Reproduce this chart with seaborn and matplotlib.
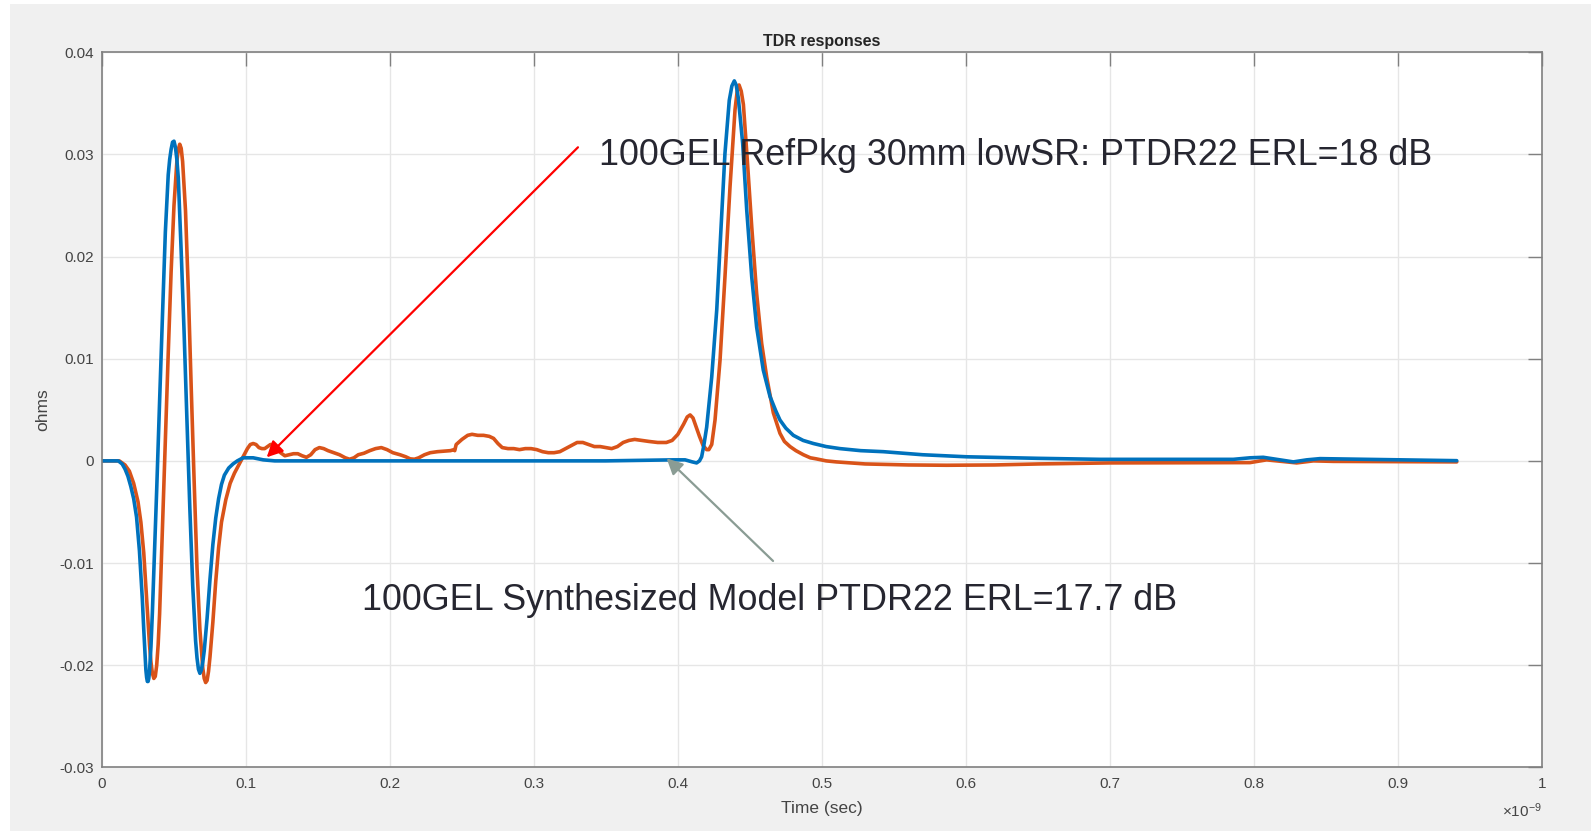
import numpy as np
import pandas as pd
import matplotlib
matplotlib.use("Agg")
import matplotlib.pyplot as plt
from matplotlib.patches import Rectangle
import seaborn as sns

# ---------------- data (time in units of 1e-9 s, response in ohms) ----------------
t_synth = [0.000, 0.008, 0.0113, 0.014, 0.016, 0.018, 0.020, 0.022, 0.024, 0.026, 0.028,
           0.029, 0.030, 0.0305, 0.031, 0.0315, 0.032, 0.0325, 0.033, 0.034, 0.035, 0.036,
           0.038, 0.040, 0.042, 0.044, 0.046, 0.047, 0.048, 0.049, 0.050, 0.051, 0.052,
           0.053, 0.055, 0.057, 0.059, 0.061, 0.063, 0.065, 0.066, 0.067, 0.068, 0.069,
           0.070, 0.071, 0.073, 0.075, 0.077, 0.079, 0.081, 0.083, 0.085, 0.088, 0.091,
           0.094, 0.098, 0.105, 0.112, 0.120, 0.150, 0.200, 0.250, 0.300, 0.350, 0.3968,
           0.405, 0.410, 0.413, 0.4150, 0.4165, 0.418, 0.4200, 0.4235, 0.4270, 0.4300,
           0.4327, 0.4357, 0.4375, 0.4392, 0.4405, 0.4420, 0.4450, 0.4478, 0.4513, 0.4547,
           0.4593, 0.4640, 0.4680, 0.4709, 0.4750, 0.4802, 0.4870, 0.4941, 0.5030, 0.5126,
           0.5270, 0.5427, 0.5700, 0.6006, 0.6500, 0.6932, 0.7858, 0.7974, 0.8066, 0.8159,
           0.8275, 0.8368, 0.8460, 0.8784, 0.9410]
y_synth = [0.0000, 0.0000, 0.0000, -0.0003, -0.0008, -0.0015, -0.0025, -0.0037, -0.0055,
           -0.0088, -0.0135, -0.0165, -0.0192, -0.0205, -0.0212, -0.0216, -0.0216, -0.0213,
           -0.0206, -0.0182, -0.0148, -0.0108, -0.0028, 0.0058, 0.0142, 0.0224, 0.0280,
           0.0295, 0.0305, 0.0312, 0.0313, 0.0307, 0.0295, 0.0277, 0.0205, 0.0127, 0.0040,
           -0.0046, -0.0122, -0.0176, -0.0193, -0.0204, -0.0208, -0.0205, -0.0197, -0.0186,
           -0.0154, -0.0116, -0.0082, -0.0056, -0.0037, -0.0023, -0.0014, -0.0007, -0.0003,
           0.0000, 0.0003, 0.0003, 0.0001, 0.0000, 0.0000, 0.0000, 0.0000, 0.0000, 0.0000,
           0.0001, 0.0001, -0.0001, -0.0002, 0.0000, 0.0004, 0.0015, 0.0033, 0.0082, 0.0148,
           0.0229, 0.0301, 0.0353, 0.0367, 0.0372, 0.0368, 0.0355, 0.0311, 0.0246, 0.0180,
           0.0131, 0.0089, 0.0063, 0.0049, 0.0040, 0.0032, 0.0025, 0.0020, 0.0017, 0.0014,
           0.0012, 0.0010, 0.0009, 0.0006, 0.0004, 0.00025, 0.00015, 0.00015, 0.0003, 0.00035,
           0.00015, -0.0001, 0.0001, 0.00022, 0.00015, 0.00002]

t_refpkg = [0.000, 0.012, 0.016, 0.019, 0.022, 0.025, 0.027, 0.029, 0.031, 0.033, 0.034,
            0.035, 0.036, 0.037, 0.038, 0.039, 0.040, 0.042, 0.044, 0.046, 0.048, 0.050,
            0.052, 0.053, 0.054, 0.055, 0.056, 0.058, 0.060, 0.062, 0.064, 0.066, 0.068,
            0.070, 0.071, 0.072, 0.073, 0.074, 0.075, 0.077, 0.079, 0.081, 0.083, 0.086,
            0.089, 0.092, 0.095, 0.098, 0.101, 0.103, 0.105, 0.107, 0.109, 0.111, 0.113,
            0.115, 0.117, 0.119, 0.121, 0.124, 0.127, 0.130, 0.133, 0.136, 0.139, 0.142,
            0.145, 0.148, 0.151, 0.154, 0.157, 0.161, 0.165, 0.169, 0.172, 0.175, 0.178,
            0.182, 0.186, 0.190, 0.194, 0.198, 0.202, 0.207, 0.211, 0.214, 0.217, 0.220,
            0.224, 0.228, 0.233, 0.238, 0.242, 0.2445, 0.2450, 0.2460, 0.250, 0.254, 0.257,
            0.261, 0.265, 0.269, 0.272, 0.275, 0.278, 0.282, 0.286, 0.290, 0.294, 0.298,
            0.302, 0.306, 0.310, 0.314, 0.318, 0.322, 0.326, 0.330, 0.334, 0.338, 0.342,
            0.346, 0.350, 0.354, 0.358, 0.362, 0.366, 0.370, 0.375, 0.380, 0.386, 0.392,
            0.396, 0.400, 0.404, 0.4065, 0.4085, 0.4105, 0.4125, 0.4150, 0.4175, 0.4200,
            0.4215, 0.4235, 0.4258, 0.4293, 0.4327, 0.4362, 0.4397, 0.4412, 0.4425, 0.4440,
            0.4455, 0.4482, 0.4513, 0.4547, 0.4582, 0.4617, 0.4663, 0.4709, 0.4740, 0.4779,
            0.4820, 0.4872, 0.4920, 0.4960, 0.5030, 0.5100, 0.5300, 0.5600, 0.5867, 0.6200,
            0.6510, 0.7000, 0.7500, 0.7974, 0.8089, 0.8159, 0.8298, 0.8414, 0.8553, 0.9410]
y_refpkg = [0.0000, 0.0000, -0.0004, -0.0010, -0.0022, -0.0040, -0.0060, -0.0090, -0.0135,
            -0.0180, -0.0197, -0.0208, -0.0213, -0.0211, -0.0200, -0.0180, -0.0150, -0.0065,
            0.0020, 0.0105, 0.0185, 0.0250, 0.0293, 0.0305, 0.0310, 0.0306, 0.0293, 0.0245,
            0.0165, 0.0070, -0.0020, -0.0105, -0.0165, -0.0203, -0.0213, -0.0217, -0.0215,
            -0.0206, -0.0192, -0.0158, -0.0118, -0.0085, -0.0060, -0.0038, -0.0022, -0.0012,
            -0.0004, 0.0004, 0.0012, 0.0016, 0.0017, 0.0016, 0.0013, 0.0012, 0.0012, 0.0014,
            0.0016, 0.0016, 0.0013, 0.0008, 0.0005, 0.0006, 0.0007, 0.0007, 0.0005, 0.00035,
            0.0006, 0.0011, 0.0013, 0.0012, 0.0010, 0.0008, 0.0006, 0.0003, 0.00016, 0.0003,
            0.0006, 0.00075, 0.0010, 0.0012, 0.0013, 0.0011, 0.0008, 0.0006, 0.0004, 0.0002,
            0.00016, 0.0003, 0.0006, 0.0008, 0.0009, 0.00095, 0.0010, 0.0011, 0.0010, 0.0016,
            0.0021, 0.0025, 0.0026, 0.0025, 0.0025, 0.0024, 0.0022, 0.0017, 0.0013, 0.0012,
            0.0012, 0.0011, 0.0012, 0.0012, 0.0011, 0.0009, 0.0008, 0.0008, 0.0009, 0.0012,
            0.0015, 0.0018, 0.0018, 0.0016, 0.0014, 0.0014, 0.0013, 0.0012, 0.0014, 0.0018,
            0.0020, 0.0021, 0.0020, 0.0019, 0.0018, 0.0018, 0.0020, 0.0026, 0.0036, 0.0043,
            0.0045, 0.0042, 0.0034, 0.0024, 0.0015, 0.0011, 0.0011, 0.0016, 0.0040, 0.0099,
            0.0180, 0.0268, 0.0344, 0.0362, 0.0368, 0.0362, 0.0349, 0.0295, 0.0229, 0.0164,
            0.0115, 0.0082, 0.0047, 0.0027, 0.0019, 0.0014, 0.0010, 0.0006, 0.0003, 0.0002,
            0.0000, -0.0001, -0.0003, -0.0004, -0.00043, -0.0004, -0.0003, -0.0002, -0.00018,
            -0.00017, 0.0001, 0.0000, -0.0002, 0.0000, -0.00005, -0.0001]

series_names = ["100GEL RefPkg 30mm lowSR", "100GEL Synthesized Model"]
series_colors = ["#D95319", "#0072BD"]

x_ticks = [0, 0.1, 0.2, 0.3, 0.4, 0.5, 0.6, 0.7, 0.8, 0.9, 1]
x_tick_labels = ["0", "0.1", "0.2", "0.3", "0.4", "0.5", "0.6", "0.7", "0.8", "0.9", "1"]
y_ticks = [-0.03, -0.02, -0.01, 0, 0.01, 0.02, 0.03, 0.04]
y_tick_labels = ["-0.03", "-0.02", "-0.01", "0", "0.01", "0.02", "0.03", "0.04"]

title_text = "TDR responses"
x_label = "Time (sec)"
y_label = "ohms"
offset_text = r"$\times10^{-9}$"
note_refpkg = "100GEL RefPkg 30mm lowSR: PTDR22 ERL=18 dB"
note_synth = "100GEL Synthesized Model PTDR22 ERL=17.7 dB"

# ---------------- style ----------------
sns.set_theme(style="white")
plt.rcParams["font.family"] = ["Liberation Sans", "DejaVu Sans"]
plt.rcParams["mathtext.fontset"] = "custom"
plt.rcParams["mathtext.rm"] = "Liberation Sans"
plt.rcParams["mathtext.it"] = "Liberation Sans"

W, H = 1591, 831
fig = plt.figure(figsize=(W / 100, H / 100), dpi=100, facecolor="white")
fig.patches.append(Rectangle((10 / W, 0), 1 - 10 / W, 1 - 4 / H, transform=fig.transFigure,
                             facecolor="#f0f0f0", edgecolor="none", zorder=-10))

ax_l, ax_r, ax_t, ax_b = 102, 1541.7, 52.3, 767.3
ax = fig.add_axes([ax_l / W, 1 - ax_b / H, (ax_r - ax_l) / W, (ax_b - ax_t) / H])
ax.set_facecolor("white")

df = pd.concat([
    pd.DataFrame({"t": t_refpkg, "v": y_refpkg, "series": series_names[0]}),
    pd.DataFrame({"t": t_synth, "v": y_synth, "series": series_names[1]}),
], ignore_index=True)

sns.lineplot(data=df, x="t", y="v", hue="series", palette=series_colors,
             hue_order=series_names, estimator=None, sort=False, linewidth=2.6,
             legend=False, ax=ax)
for ln in ax.get_lines():
    ln.set_solid_joinstyle("round")
    ln.set_solid_capstyle("round")

ax.set_xlim(0, 1)
ax.set_ylim(-0.03, 0.04)
ax.set_xticks(x_ticks)
ax.set_xticklabels(x_tick_labels)
ax.set_yticks(y_ticks)
ax.set_yticklabels(y_tick_labels)

ax.grid(True, color="#e6e6e6", linewidth=1.0)
ax.set_axisbelow(True)
for s in ax.spines.values():
    s.set_color("#808080")
    s.set_linewidth(1.2)
ax.tick_params(axis="both", direction="in", length=10, width=1.0, color="#808080",
               labelsize=11, labelcolor="#444444", top=True, right=True)
ax.tick_params(axis="x", pad=7)
ax.tick_params(axis="y", pad=6)

ax.set_title(title_text, fontsize=11.5, fontweight="bold", color="#262626", pad=4.5)
ax.set_xlabel(x_label, fontsize=12.5, color="#444444")
ax.set_ylabel(y_label, fontsize=12.5, color="#444444")
ax.xaxis.set_label_coords(0.5, (ax_b - 808) / (ax_b - ax_t))
ax.xaxis.label.set_verticalalignment("center")
ax.yaxis.set_label_coords((43 - ax_l) / (ax_r - ax_l), 0.5)
ax.yaxis.label.set_verticalalignment("center")
ax.text(1.0, (ax_b - 811) / (ax_b - ax_t), offset_text, transform=ax.transAxes,
        ha="right", va="center", fontsize=11, color="#444444")

# annotations
ax.annotate("", xy=(0.1144, 0.00035), xytext=(0.3306, 0.0307),
            arrowprops=dict(arrowstyle="-|>", color="#ff0000", lw=1.6,
                            mutation_scale=24, shrinkA=0, shrinkB=0), zorder=5)
ax.annotate("", xy=(0.3922, 0.00025), xytext=(0.4661, -0.0098),
            arrowprops=dict(arrowstyle="-|>", color="#8a9c94", lw=1.6,
                            mutation_scale=24, shrinkA=0, shrinkB=0), zorder=5)
ax.text(0.3452, 0.0290, note_refpkg, fontsize=25.8, color="#262630",
        ha="left", va="baseline", zorder=6)
ax.text(0.1806, -0.0146, note_synth, fontsize=25.8, color="#262630",
        ha="left", va="baseline", zorder=6)

fig.savefig("out.png", dpi=100, facecolor="white")
